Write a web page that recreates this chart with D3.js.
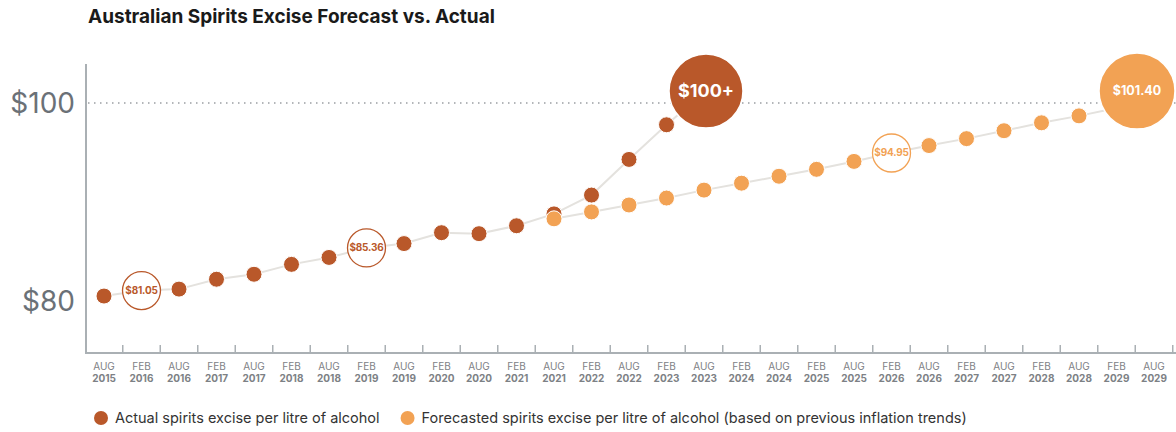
<!DOCTYPE html>
<html>
<head>
<meta charset="utf-8">
<script src="https://cdn.jsdelivr.net/npm/d3@7"></script>
<style>
  body { margin: 0; background: #fff; font-family: Inter, 'Open Sans', sans-serif; }
  #chart { width: 1176px; height: 432px; }
</style>
</head>
<body>
<div id="chart"></div>
<script>
// Periods on the x axis (half-yearly indexation dates)
const periods = [
  'AUG 2015', 'FEB 2016', 'AUG 2016', 'FEB 2017', 'AUG 2017', 'FEB 2018', 'AUG 2018',
  'FEB 2019', 'AUG 2019', 'FEB 2020', 'AUG 2020', 'FEB 2021', 'AUG 2021', 'FEB 2022',
  'AUG 2022', 'FEB 2023', 'AUG 2023', 'FEB 2024', 'AUG 2024', 'FEB 2025', 'AUG 2025',
  'FEB 2026', 'AUG 2026', 'FEB 2027', 'AUG 2027', 'FEB 2028', 'AUG 2028', 'FEB 2029', 'AUG 2029'
];

// Actual excise, AUG 2015 .. AUG 2023 (last one is the "$100+" bubble)
const actual = [80.5, 81.05, 81.2, 82.2, 82.7, 83.7, 84.4, 85.36, 85.8, 86.9, 86.8, 87.6,
                88.8, 90.7, 94.3, 97.8, 101.2];
// Forecast excise, AUG 2021 .. AUG 2029 (last one is the "$101.40" bubble)
const forecastStart = 12;
const forecast = [88.3, 89.0, 89.7, 90.4, 91.2, 91.9, 92.6, 93.3, 94.1, 94.95, 95.7, 96.4,
                  97.2, 98.0, 98.7, 99.5, 101.2];

// Callouts: [period index, label]
const actualNotes = [[1, '$81.05'], [7, '$85.36']];
const forecastNotes = [[21, '$94.95']];
const actualPeak = '$100+';
const forecastPeak = '$101.40';

const yTicks = [80, 100];
const legendLabels = [
  'Actual spirits excise per litre of alcohol',
  'Forecasted spirits excise per litre of alcohol (based on previous inflation trends)'
];

const colActual = '#b9582a';
const colForecast = '#f2a254';

const W = 1176, H = 432;
const svg = d3.select('#chart').append('svg')
  .attr('width', W).attr('height', H);

// Title
svg.append('text')
  .attr('x', 88).attr('y', 23)
  .attr('font-size', 19).attr('font-weight', 700)
  .attr('fill', '#1a1a1a')
  .text('Australian Spirits Excise Forecast vs. Actual');

// Scales
const x = d3.scalePoint().domain(periods).range([104, 1154]);
const y = d3.scaleLinear().domain([80, 100]).range([301, 103]);
const step = x.step();

// $100 reference line (dotted)
svg.append('line')
  .attr('x1', 88).attr('x2', W)
  .attr('y1', y(100)).attr('y2', y(100))
  .attr('stroke', '#9a9ea2').attr('stroke-width', 1.5)
  .attr('stroke-dasharray', '1.5 4.5');

// Y labels
svg.append('g').selectAll('text')
  .data(yTicks).join('text')
  .attr('x', 75).attr('y', d => y(d))
  .attr('dy', '0.35em')
  .attr('text-anchor', 'end')
  .attr('font-size', 28)
  .attr('fill', '#6b7177')
  .text(d => '$' + d);

// Axes lines
const axisY = 353;
svg.append('line')
  .attr('x1', 86).attr('x2', 86).attr('y1', 64).attr('y2', axisY)
  .attr('stroke', '#aab0b4').attr('stroke-width', 2);
svg.append('line')
  .attr('x1', 85).attr('x2', W).attr('y1', axisY).attr('y2', axisY)
  .attr('stroke', '#aab0b4').attr('stroke-width', 2);

// Ticks between periods
svg.append('g').selectAll('line')
  .data(periods).join('line')
  .attr('x1', d => x(d) + step / 2).attr('x2', d => x(d) + step / 2)
  .attr('y1', axisY - 8).attr('y2', axisY)
  .attr('stroke', '#aab0b4').attr('stroke-width', 1.5);

// Period labels (two lines)
const lab = svg.append('g').selectAll('text')
  .data(periods).join('text')
  .attr('text-anchor', 'middle')
  .attr('font-size', 10)
  .attr('fill', '#7d8185');
lab.append('tspan')
  .attr('x', d => x(d)).attr('y', 370)
  .text(d => d.split(' ')[0]);
lab.append('tspan')
  .attr('x', d => x(d)).attr('y', 382)
  .attr('font-weight', 700)
  .text(d => d.split(' ')[1]);

// Position helpers
const aX = i => x(periods[i]);
const fX = i => x(periods[i + forecastStart]);
const actualPeakX = () => aX(actual.length - 1) + 2;
const forecastPeakX = () => fX(forecast.length - 1) - 17;

// Connecting lines
const line = d3.line().x(d => d[0]).y(d => d[1]);
svg.append('path')
  .datum(actual.map((v, i) => [i === actual.length - 1 ? actualPeakX() : aX(i), y(v)]))
  .attr('fill', 'none').attr('stroke', '#e4e2de').attr('stroke-width', 2)
  .attr('d', line);
svg.append('path')
  .datum(forecast.map((v, i) => [i === forecast.length - 1 ? forecastPeakX() : fX(i), y(v)]))
  .attr('fill', 'none').attr('stroke', '#e4e2de').attr('stroke-width', 2)
  .attr('d', line);

// Plain dots
const actualNoteIdx = actualNotes.map(d => d[0]);
const forecastNoteIdx = forecastNotes.map(d => d[0]);

svg.append('g').selectAll('circle')
  .data(actual.map((v, i) => ({ v, i })).filter(d => d.i < actual.length - 1 && !actualNoteIdx.includes(d.i)))
  .join('circle')
  .attr('cx', d => aX(d.i)).attr('cy', d => y(d.v))
  .attr('r', 8)
  .attr('fill', colActual).attr('stroke', '#fff').attr('stroke-width', 1);

svg.append('g').selectAll('circle')
  .data(forecast.map((v, i) => ({ v, i })).filter(d => d.i < forecast.length - 1 && !forecastNoteIdx.includes(d.i + forecastStart)))
  .join('circle')
  .attr('cx', d => fX(d.i)).attr('cy', d => y(d.v))
  .attr('r', 8)
  .attr('fill', colForecast).attr('stroke', '#fff').attr('stroke-width', 1);

// Hollow callout circles
function hollow(notes, vals, offset, col) {
  const g = svg.append('g').selectAll('g')
    .data(notes).join('g')
    .attr('transform', d => `translate(${x(periods[d[0]])},${y(vals[d[0] - offset])})`);
  g.append('circle')
    .attr('r', 19)
    .attr('fill', '#fff').attr('stroke', col).attr('stroke-width', 1.3);
  g.append('text')
    .attr('text-anchor', 'middle').attr('dy', '0.35em')
    .attr('font-size', 10).attr('font-weight', 700)
    .attr('letter-spacing', -0.2)
    .attr('fill', col)
    .text(d => d[1]);
}
hollow(actualNotes, actual, 0, colActual);
hollow(forecastNotes, forecast, forecastStart, colForecast);

// Big bubbles at the end of each series
function bubble(cx, cy, r, col, label, fs) {
  const g = svg.append('g').attr('transform', `translate(${cx},${cy})`);
  g.append('circle').attr('r', r)
    .attr('fill', col).attr('stroke', '#fff').attr('stroke-width', 1.5);
  g.append('text')
    .attr('text-anchor', 'middle').attr('dy', '0.35em')
    .attr('font-size', fs).attr('font-weight', 700)
    .attr('fill', '#fff')
    .text(label);
}
bubble(actualPeakX(), y(actual[actual.length - 1]), 37, colActual, actualPeak, 18);
bubble(forecastPeakX(), y(forecast[forecast.length - 1]), 38, colForecast, forecastPeak, 12.5);

// Legend
const legend = svg.append('g');
let lx = 101;
[colActual, colForecast].forEach((c, i) => {
  legend.append('circle').attr('cx', lx).attr('cy', 418).attr('r', 7).attr('fill', c);
  const t = legend.append('text').attr('x', lx + 14).attr('y', 418).attr('dy', '0.35em')
    .attr('font-size', 14.5).attr('fill', '#333')
    .text(legendLabels[i]);
  lx += 14 + t.node().getComputedTextLength() + 28;
});
</script>
</body>
</html>
